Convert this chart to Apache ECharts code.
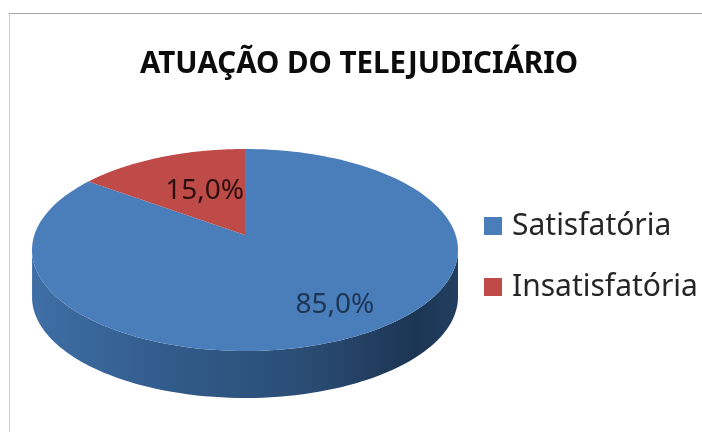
<!DOCTYPE html>
<html>
<head>
<meta charset="utf-8">
<style>
html,body{margin:0;padding:0;background:#fff}
#chart{width:702px;height:432px}
</style>
<script src="https://cdn.jsdelivr.net/npm/echarts@6/dist/echarts.min.js"></script>
</head>
<body>
<div id="chart"></div>
<script>
const categories = ['Satisfatória', 'Insatisfatória'];
const values = [85, 15];
const colors = ['#4a7ebb', '#be4b48'];
const labelColors = ['#1b3555', '#2b0f0e'];

// pie geometry (top face is an ellipse, tilted so the apex sits above its centre)
const cx = 245, cy = 250, rx = 213, ry = 101, depth = 47;
const tilt = 0.149;

function project(angle, r) {
  let u = r * Math.sin(angle), v = -r * Math.cos(angle);
  let d = 1 - tilt * v;
  return [cx + rx * u * Math.sqrt(1 - tilt * tilt) / d, cy + ry * (v - tilt) / d];
}

function makeRenderItem(index) {
  return function (params, api) {
    let total = values.reduce((a, b) => a + b, 0);
    let start = api.value(0) / total * Math.PI * 2;
    let sweep = api.value(1) / total * Math.PI * 2;
    let steps = 160;
    let rim = [];
    for (let i = 0; i <= steps; i++) rim.push(project(start + sweep * i / steps, 1));

    let children = [];
    // side wall, only the part of the rim facing the viewer
    let front = rim.filter(p => p[1] >= cy);
    if (front.length > 1) {
      let wall = front.concat(front.slice().reverse().map(p => [p[0], p[1] + depth]));
      children.push({
        type: 'polygon',
        shape: { points: wall },
        style: {
          fill: new echarts.graphic.LinearGradient(0, 0, 1, 0, [
            { offset: 0, color: '#3f6fa6' },
            { offset: 0.3, color: '#325c8c' },
            { offset: 0.65, color: '#2a4c74' },
            { offset: 0.9, color: '#1c3553' },
            { offset: 1, color: '#223e60' }
          ])
        }
      });
    }
    children.push({
      type: 'polygon',
      shape: { points: [project(0, 0)].concat(rim) },
      style: { fill: api.visual('color') }
    });
    // percentage label
    let mid = project(start + sweep / 2, index === 0 ? 0.7 : 0.53);
    children.push({
      type: 'text',
      style: {
        x: mid[0] + (index === 0 ? 16 : 7),
        y: mid[1] + (index === 0 ? 2 : 0),
        text: api.value(1).toFixed(1).replace('.', ',') + '%',
        fill: labelColors[index],
        font: '28px "Noto Sans"',
        align: 'center',
        verticalAlign: 'middle'
      }
    });
    return { type: 'group', children: children };
  };
}

let myChart = echarts.init(document.getElementById('chart'));
let running = 0;
let series = categories.map((name, i) => {
  let s = {
    name: name,
    type: 'custom',
    coordinateSystem: 'none',
    renderItem: makeRenderItem(i),
    itemStyle: { color: colors[i] },
    data: [[running, values[i]]]
  };
  running += values[i];
  return s;
});

myChart.setOption({
  animation: false,
  backgroundColor: '#fff',
  title: {
    text: 'ATUAÇÃO DO TELEJUDICIÁRIO',
    left: 140,
    top: 45,
    padding: 0,
    textStyle: { fontFamily: 'Noto Sans', fontSize: 29.5, fontWeight: 'bold', color: '#0c0c0c', lineHeight: 40 }
  },
  legend: {
    data: categories,
    orient: 'vertical',
    left: 484,
    top: 209,
    padding: 0,
    itemWidth: 18,
    itemHeight: 18,
    itemGap: 27,
    icon: 'rect',
    textStyle: { fontFamily: 'Noto Sans', fontSize: 30, color: '#262626', lineHeight: 34, padding: [0, 0, 0, 5] }
  },
  graphic: [
    { type: 'line', shape: { x1: 8.5, y1: 13.5, x2: 702, y2: 13.5 }, style: { stroke: '#a6a6a6', lineWidth: 1 } },
    { type: 'line', shape: { x1: 9.5, y1: 13.5, x2: 9.5, y2: 432 }, style: { stroke: '#d0d0d0', lineWidth: 1 } }
  ],
  series: series
});
</script>
</body>
</html>
